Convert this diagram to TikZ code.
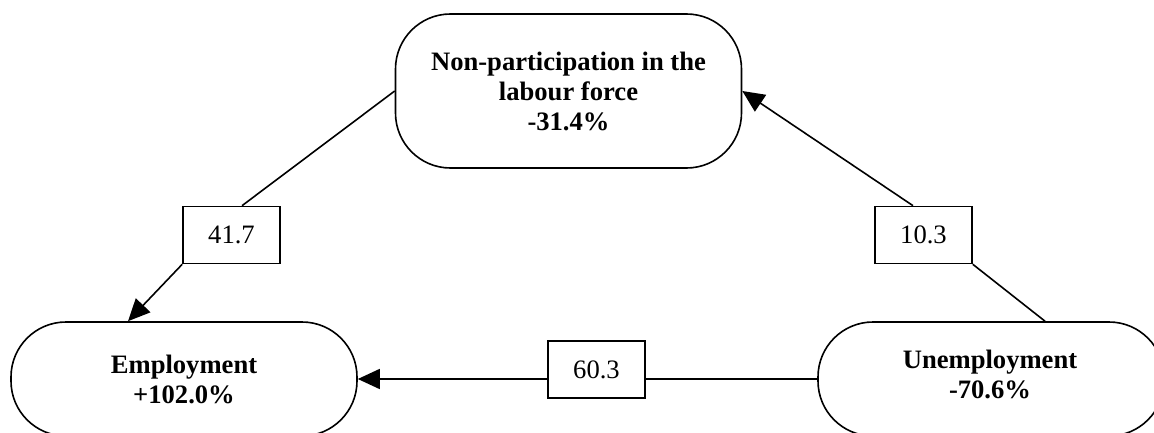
\documentclass[tikz,border=0pt]{standalone}
\usepackage{fontspec}
\setmainfont{Liberation Serif}
\usetikzlibrary{arrows.meta}
\tikzset{
  state/.style={draw, line width=1.6pt, rounded corners=55pt, inner sep=0pt,
    minimum width=346pt, align=center, font=\fontsize{26.6}{30}\selectfont\bfseries},
  rate/.style={draw, line width=1.6pt, inner sep=0pt, minimum width=97pt,
    minimum height=57pt, font=\fontsize{26.6}{30}\selectfont},
  conn/.style={line width=1.6pt},
  flow/.style={line width=1.6pt, -{Triangle[length=22pt,width=20pt]}}
}
\begin{document}
\begin{tikzpicture}[x=1pt,y=-1pt]
\useasboundingbox (0,0) rectangle (1154,433);
\clip (0,0) rectangle (1154,433);
\node[state, minimum height=154pt] (NP) at (568.5,91) {Non-participation in the\\labour force\\-31.4\%};
\node[state, minimum height=114pt] (E) at (184,379) {Employment\\+102.0\%};
\node[state, minimum height=114pt] (U) at (991,379) {};
\node[align=center, inner sep=0pt, font=\fontsize{26.6}{30}\selectfont\bfseries] (Ut) at (990,374) {Unemployment\\-70.6\%};
\node[rate] (b1) at (231.5,235) {41.7};
\node[rate] (b2) at (923.5,235) {10.3};
\node[rate] (b3) at (596.5,369.5) {60.3};
\draw[conn] (NP.west) -- ([xshift=10.5pt]b1.north);
\draw[flow] (b1.south west) -- ([xshift=-56pt]E.north);
\draw[conn] ([xshift=54pt]U.north) -- (b2.south east);
\draw[flow] ([xshift=-10.5pt]b2.north) -- (NP.east);
\draw[conn] (U.west) -- (b3.east |- U.west);
\draw[flow] (b3.west |- E.east) -- (E.east);
\end{tikzpicture}
\end{document}
